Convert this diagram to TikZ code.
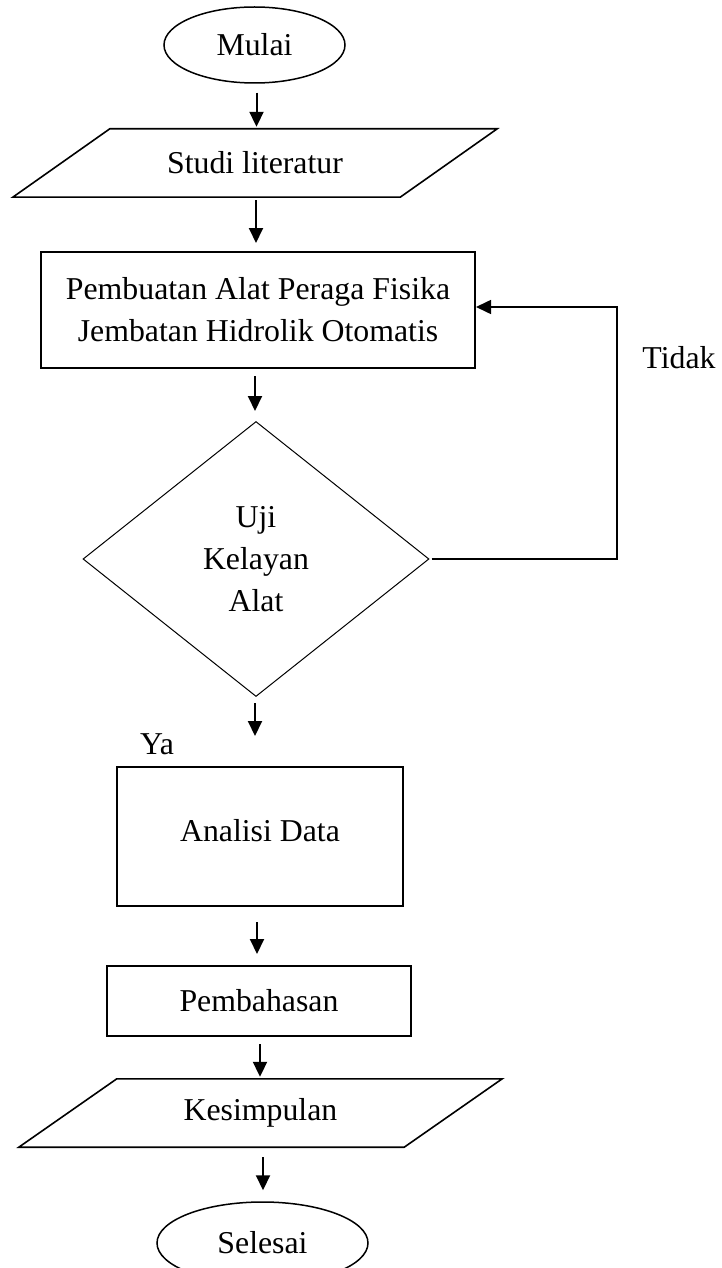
\documentclass[tikz,border=0pt]{standalone}
\usepackage{fontspec}
\setmainfont{Liberation Serif}
\usetikzlibrary{shapes.geometric,arrows.meta}
\begin{document}
\begin{tikzpicture}[x=1pt,y=-1pt,
  font=\fontsize{31.8}{42}\selectfont,
  termin/.style={ellipse, draw, line width=1.5pt, inner sep=0pt},
  procbox/.style={rectangle, draw, line width=2pt, align=center, inner sep=0pt},
  iobox/.style={rectangle, draw=none, inner sep=0pt},
  iopath/.style={line width=1.6pt, line join=miter},
  decis/.style={diamond, draw, line width=1pt, align=center, inner sep=0pt},
  flow/.style={line width=2pt, -{Triangle[length=15pt,width=14pt]}},
  plain/.style={inner sep=0pt}]
\path[use as bounding box, fill=white] (0,0) rectangle (721,1268);

\node[termin, minimum width=181pt, minimum height=76pt] (mulai) at (254.5,45) {Mulai};
\node[iobox, minimum width=387pt, minimum height=68pt] (studi) at (255,163) {Studi literatur};
\draw[iopath] ([xshift=48.5pt]studi.north west) -- ([xshift=48.5pt]studi.north east)
  -- ([xshift=-48.5pt]studi.south east) -- ([xshift=-48.5pt]studi.south west) -- cycle;
\node[procbox, minimum width=434pt, minimum height=116pt] (pemb) at (258,310)
  {Pembuatan Alat Peraga Fisika\\Jembatan Hidrolik Otomatis};
\node[decis, minimum width=346pt, minimum height=275pt] (uji) at (256,559) {Uji\\Kelayan\\Alat};
\node[plain] (ya) at (157,744) {Ya};
\node[plain] (tidak) at (679,358) {Tidak};
\node[procbox, minimum width=286pt, minimum height=139pt, text depth=12pt] (analisi) at (260,836.5) {Analisi Data};
\node[procbox, minimum width=304pt, minimum height=70pt] (bahas) at (259,1001) {Pembahasan};
\node[iobox, minimum width=385pt, minimum height=68pt] (simpul) at (260.5,1113) {Kesimpulan};
\draw[iopath] ([xshift=49pt]simpul.north west) -- ([xshift=49pt]simpul.north east)
  -- ([xshift=-49pt]simpul.south east) -- ([xshift=-49pt]simpul.south west) -- cycle;
\node[termin, minimum width=211pt, minimum height=82pt] (selesai) at (262.5,1243) {Selesai};

\coordinate (fbtop) at (617,307);

\draw[flow, shorten <=9pt, shorten >=2pt] ([xshift=2pt]mulai.south) -- ([xshift=2pt]mulai.south |- studi.north);
\draw[flow, shorten <=3pt, shorten >=8pt] ([xshift=1pt]studi.south) -- ([xshift=1pt]studi.south |- pemb.north);
\draw[flow, shorten <=7pt, shorten >=10pt] ([xshift=-3pt]pemb.south) -- ([xshift=-3pt]pemb.south |- uji.north);
\draw[flow, shorten <=6pt, shorten >=30pt] ([xshift=-1pt]uji.south) -- ([xshift=-1pt]uji.south |- analisi.north);
\draw[flow, shorten <=15pt, shorten >=11pt] ([xshift=-3pt]analisi.south) -- ([xshift=-3pt]analisi.south |- bahas.north);
\draw[flow, shorten <=7pt, shorten >=2pt] ([xshift=1pt]bahas.south) -- ([xshift=1pt]bahas.south |- simpul.north);
\draw[flow, shorten <=10pt, shorten >=11pt] ([xshift=2.5pt]simpul.south) -- ([xshift=2.5pt]simpul.south |- selesai.north);

\draw[flow, line width=1.6pt, line join=miter] ([xshift=2pt]uji.east) -| (fbtop) -- (fbtop -| pemb.east);
\end{tikzpicture}
\end{document}
